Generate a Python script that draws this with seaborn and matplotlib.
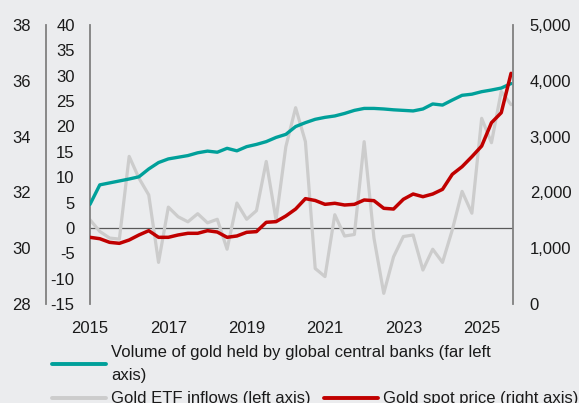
import numpy as np
import pandas as pd
import matplotlib
matplotlib.use("Agg")
import matplotlib.pyplot as plt
import seaborn as sns
from matplotlib.ticker import FuncFormatter, FixedLocator
from matplotlib.lines import Line2D

quarters = pd.period_range("2015Q1", "2025Q4", freq="Q")
xpos = [p.year + (p.quarter - 1) / 4 for p in quarters]

cb_volume = [31.57, 32.27, 32.34, 32.41, 32.48, 32.56, 32.84, 33.07, 33.20, 33.26,
             33.32, 33.42, 33.48, 33.44, 33.58, 33.49, 33.64, 33.72, 33.82, 33.97,
             34.08, 34.36, 34.50, 34.62, 34.69, 34.74, 34.83, 34.94, 35.01, 35.01,
             34.99, 34.96, 34.94, 34.92, 34.99, 35.17, 35.13, 35.31, 35.48, 35.52,
             35.61, 35.67, 35.74, 35.90]
etf_inflows = [1.6, -0.7, -2.0, -2.2, 14.1, 9.8, 6.5, -6.8, 4.1, 2.2,
               1.2, 2.8, 1.0, 1.7, -4.2, 4.9, 1.7, 3.4, 13.1, 1.6,
               16.0, 23.7, 17.0, -8.0, -9.6, 2.6, -1.6, -1.3, 17.0, -2.0,
               -12.9, -5.7, -1.7, -1.4, -8.3, -4.2, -6.8, -0.4, 7.2, 2.9,
               21.6, 16.8, 26.9, 24.3]
gold_price = [1195, 1170, 1105, 1087, 1147, 1237, 1314, 1195, 1195, 1237,
              1267, 1267, 1314, 1290, 1195, 1219, 1285, 1297, 1464, 1476,
              1577, 1702, 1888, 1855, 1786, 1805, 1774, 1786, 1864, 1852,
              1715, 1702, 1876, 1971, 1923, 1971, 2055, 2324, 2461, 2640,
              2831, 3249, 3428, 4134]

year_ticks = [2015, 2017, 2019, 2021, 2023, 2025]
far_left_ticks = [28, 30, 32, 34, 36, 38]
left_ticks = [-15, -10, -5, 0, 5, 10, 15, 20, 25, 30, 35, 40]
right_ticks = [0, 1000, 2000, 3000, 4000, 5000]

label_cb = "Volume of gold held by global central banks (far left\naxis)"
label_etf = "Gold ETF inflows (left axis)"
label_px = "Gold spot price (right axis)"

df = pd.DataFrame({"x": xpos, "cb": cb_volume, "etf": etf_inflows, "px": gold_price})

sns.set_style("white")
plt.rcParams["font.family"] = ["Liberation Sans", "DejaVu Sans"]
plt.rcParams["font.size"] = 12
plt.rcParams["axes.unicode_minus"] = False

BG = "#EBECEE"
TEAL = "#00A09A"
GRAY = "#CCCCCC"
RED = "#C00000"
SPINE = "#808080"
TXT = "#1a1a1a"

fig = plt.figure(figsize=(5.79, 4.03), dpi=100, facecolor=BG)
ax = fig.add_axes([90 / 579, 1 - 304 / 403, (513 - 90) / 579, (304 - 25) / 403])
ax.set_facecolor(BG)

ax_far = ax.twinx()
ax_r = ax.twinx()

ax.axhline(0, color="#595959", lw=0.9, zorder=1)
sns.lineplot(data=df, x="x", y="etf", ax=ax, color=GRAY, lw=2.3, zorder=2)
sns.lineplot(data=df, x="x", y="cb", ax=ax_far, color=TEAL, lw=2.4)
sns.lineplot(data=df, x="x", y="px", ax=ax_r, color=RED, lw=2.5)

ax.set_xlim(2015, 2025.8)
ax.set_ylim(-15, 40)
ax_far.set_ylim(28, 38)
ax_r.set_ylim(0, 5000)

for a in (ax, ax_far, ax_r):
    a.set_xlabel("")
    a.set_ylabel("")
    for s in a.spines.values():
        s.set_visible(False)

ax.xaxis.set_major_locator(FixedLocator(year_ticks))
ax.set_xticklabels([str(y) for y in year_ticks])
ax.tick_params(axis="x", length=0, pad=12, labelsize=12, colors=TXT)

ax.yaxis.set_major_locator(FixedLocator(left_ticks))
ax.tick_params(axis="y", length=0, pad=11, labelsize=12, colors=TXT)
ax.spines["left"].set_visible(True)
ax.spines["left"].set_color(SPINE)
ax.spines["left"].set_linewidth(1.3)

ax_far.yaxis.set_ticks_position("left")
ax_far.yaxis.set_label_position("left")
ax_far.spines["left"].set_visible(True)
ax_far.spines["left"].set_position(("outward", 31.7))
ax_far.spines["left"].set_color(SPINE)
ax_far.spines["left"].set_linewidth(1.3)
ax_far.yaxis.set_major_locator(FixedLocator(far_left_ticks))
ax_far.tick_params(axis="y", length=0, pad=11, labelsize=12, colors=TXT)

ax_r.spines["right"].set_visible(True)
ax_r.spines["right"].set_color(SPINE)
ax_r.spines["right"].set_linewidth(1.3)
ax_r.yaxis.set_major_locator(FixedLocator(right_ticks))
ax_r.yaxis.set_major_formatter(FuncFormatter(lambda v, p: f"{int(v):,}"))
ax_r.tick_params(axis="y", length=0, pad=12, labelsize=12, colors=TXT)

h_cb = Line2D([], [], color=TEAL, lw=2.8)
h_etf = Line2D([], [], color=GRAY, lw=2.8)
h_px = Line2D([], [], color=RED, lw=2.8)

LFS = 12
leg1 = fig.legend([h_cb], [label_cb], loc="upper left",
                  bbox_to_anchor=(52 / 579, 1 - 345.5 / 403), frameon=False,
                  borderpad=0, borderaxespad=0, handlelength=3.25, handletextpad=0.3,
                  fontsize=LFS)
leg2 = fig.legend([h_etf, h_px], [label_etf, label_px], loc="upper left", ncol=2,
                  bbox_to_anchor=(52 / 579, 1 - 391.5 / 403), frameon=False,
                  borderpad=0, borderaxespad=0, handlelength=3.25, handletextpad=0.3,
                  columnspacing=0.8, fontsize=LFS)
for lg in (leg1, leg2):
    for t in lg.get_texts():
        t.set_color(TXT)
for t in leg1.get_texts():
    t.set_linespacing(1.6)

fig.savefig("out.png", dpi=100, facecolor=BG)
